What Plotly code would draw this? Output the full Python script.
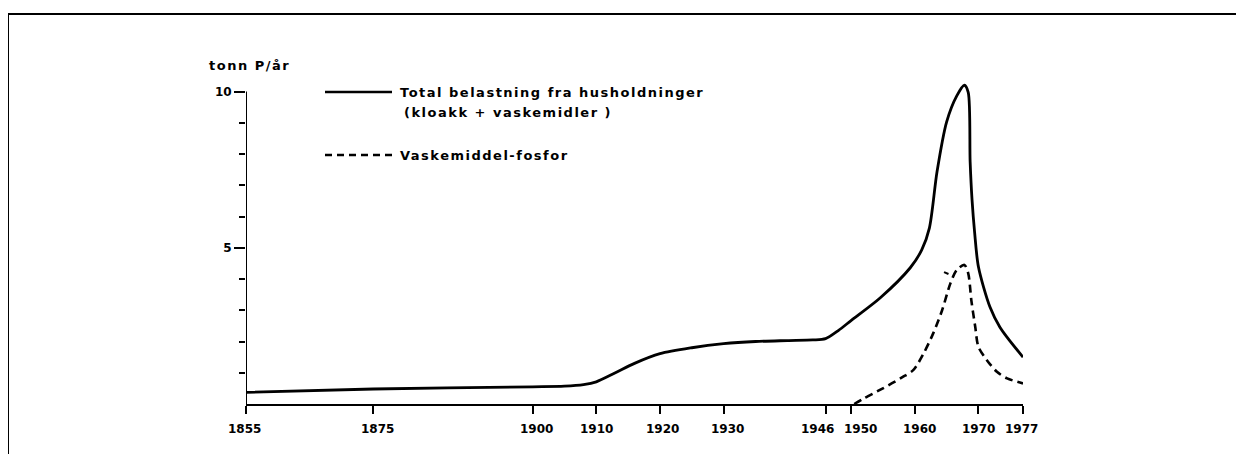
import plotly.graph_objects as go

# Total belastning fra husholdninger (kloakk + vaskemidler), tonn P/år
total_year = [1855, 1875, 1900, 1905, 1908, 1910, 1913, 1916, 1920, 1925, 1930, 1935,
              1940, 1944, 1946, 1948, 1950, 1954.6, 1959.3, 1961.1, 1962.3, 1963.5,
              1965.0, 1966.6, 1967.8, 1968.4, 1968.7, 1969.0, 1969.4, 1970.0, 1971.8,
              1973.4, 1977]
total_val = [0.37, 0.48, 0.55, 0.57, 0.62, 0.71, 1.0, 1.3, 1.61, 1.8, 1.93, 2.0,
             2.03, 2.05, 2.09, 2.35, 2.67, 3.4, 4.36, 4.93, 5.63, 7.43,
             9.02, 9.86, 10.2, 9.97, 7.75, 6.53, 5.5, 4.39, 3.11,
             2.45, 1.5]

# Vaskemiddel-fosfor
vask_year = [1950.5, 1952, 1955, 1958, 1959.8, 1961.4, 1962.9, 1964.3, 1965.6, 1966.6,
             1967.8, 1968.4, 1968.9, 1969.5, 1970.0, 1971.3, 1972.9, 1974.5, 1977]
vask_val = [0.0, 0.18, 0.5, 0.85, 1.09, 1.62, 2.26, 3.0, 3.86, 4.29,
            4.45, 4.18, 3.3, 2.47, 1.83, 1.41, 1.03, 0.82, 0.66]

# small stray dash left of the peak
stray_year = [1964.6, 1965.3]
stray_val = [4.22, 4.16]

x_ticks = [1855, 1875, 1900, 1910, 1920, 1930, 1946, 1950, 1960, 1970, 1977]
y_ticks = [5, 10]
y_minor = [1, 2, 3, 4, 6, 7, 8, 9]

# hand-lettered labels sit a little off their ticks in the original
label_shift = {1855: -2, 1875: 4, 1900: 4, 1920: 3, 1930: 4, 1946: -8, 1950: 9, 1960: 5, 1977: -2}

FONT = 'DejaVu Sans'
OFF = 8  # page body margin
W, H = 1244 - OFF, 454 - OFF


def spaced(s, px=1.5):
    return '<span style="letter-spacing:%spx">%s</span>' % (px, s)


fig = go.Figure()
fig.add_trace(go.Scatter(x=total_year, y=total_val, mode='lines',
                         line=dict(color='black', width=2.8, shape='spline', smoothing=0.8),
                         name='Total belastning fra husholdninger', showlegend=False))
fig.add_trace(go.Scatter(x=vask_year, y=vask_val, mode='lines',
                         line=dict(color='black', width=2.6, dash='8px,5px', shape='spline', smoothing=0.8),
                         name='Vaskemiddel-fosfor', showlegend=False))
fig.add_trace(go.Scatter(x=stray_year, y=stray_val, mode='lines',
                         line=dict(color='black', width=2), hoverinfo='skip', showlegend=False))

# plot area in screen px: left 246, right 1023, y=0 at 404, top at 79
L, R, B, T = 246 - OFF, 1244 - 1023, 454 - 404, 79 - OFF


def px_x(p):
    return (p - OFF - L) / (W - L - R)


def px_y(p):
    return (H - B - (p - OFF)) / (H - B - T)


shapes = [
    # y-axis line up to 10
    dict(type='line', xref='x', yref='y', x0=1855, x1=1855, y0=0, y1=10,
         line=dict(color='black', width=2)),
    # legend samples
    dict(type='line', xref='paper', yref='paper', x0=px_x(325), x1=px_x(392),
         y0=px_y(92), y1=px_y(92), line=dict(color='black', width=2.6)),
    dict(type='line', xref='paper', yref='paper', x0=px_x(325), x1=px_x(392),
         y0=px_y(155), y1=px_y(155), line=dict(color='black', width=2.6, dash='7px,5px')),
    # page frame (top and left edges)
    dict(type='line', xref='paper', yref='paper', x0=px_x(8), x1=px_x(1244),
         y0=px_y(14), y1=px_y(14), line=dict(color='black', width=2)),
    dict(type='line', xref='paper', yref='paper', x0=px_x(8), x1=px_x(8),
         y0=px_y(14), y1=px_y(454), line=dict(color='black', width=2)),
]

txt = dict(size=13, family=FONT, color='black', weight='bold')
tickfont = dict(size=12, family=FONT, color='black', weight='bold')

annotations = [
    dict(text=spaced('tonn P/år', 1.5), xref='paper', yref='paper', x=px_x(207), y=px_y(65),
         xanchor='left', yanchor='middle', showarrow=False, font=txt),
    dict(text=spaced('Total belastning fra husholdninger'), xref='paper', yref='paper',
         x=px_x(398), y=px_y(92), xanchor='left', yanchor='middle', showarrow=False, font=txt),
    dict(text=spaced('(kloakk + vaskemidler )'), xref='paper', yref='paper',
         x=px_x(402), y=px_y(112), xanchor='left', yanchor='middle', showarrow=False, font=txt),
    dict(text=spaced('Vaskemiddel-fosfor'), xref='paper', yref='paper',
         x=px_x(398), y=px_y(155), xanchor='left', yanchor='middle', showarrow=False, font=txt),
]
# x tick labels as annotations so that crowded ones can sit off-centre like the original
for yr in x_ticks:
    annotations.append(dict(text=str(yr), xref='x', yref='paper', x=yr, y=px_y(429),
                            xanchor='center', yanchor='middle', xshift=label_shift.get(yr, 0),
                            showarrow=False, font=tickfont))

fig.update_layout(
    width=W, height=H,
    margin=dict(l=L, r=R, t=T, b=B),
    paper_bgcolor='white', plot_bgcolor='white',
    font=dict(family=FONT, size=13, color='black'),
    shapes=shapes, annotations=annotations,
    xaxis=dict(range=[1855, 1977], tickmode='array', tickvals=x_ticks,
               showticklabels=False,
               showline=True, linecolor='black', linewidth=2,
               ticks='outside', ticklen=8, tickwidth=2, tickcolor='black',
               showgrid=False, zeroline=False),
    yaxis=dict(range=[0, 10.4], tickmode='array', tickvals=y_ticks,
               ticktext=[str(v) for v in y_ticks],
               showline=False, ticks='outside', ticklen=11, tickwidth=2, tickcolor='black',
               minor=dict(tickmode='array', tickvals=y_minor, ticks='outside',
                          ticklen=6, tickwidth=2, tickcolor='black'),
               showgrid=False, zeroline=False, tickfont=tickfont),
)

fig.write_html("out.html")
